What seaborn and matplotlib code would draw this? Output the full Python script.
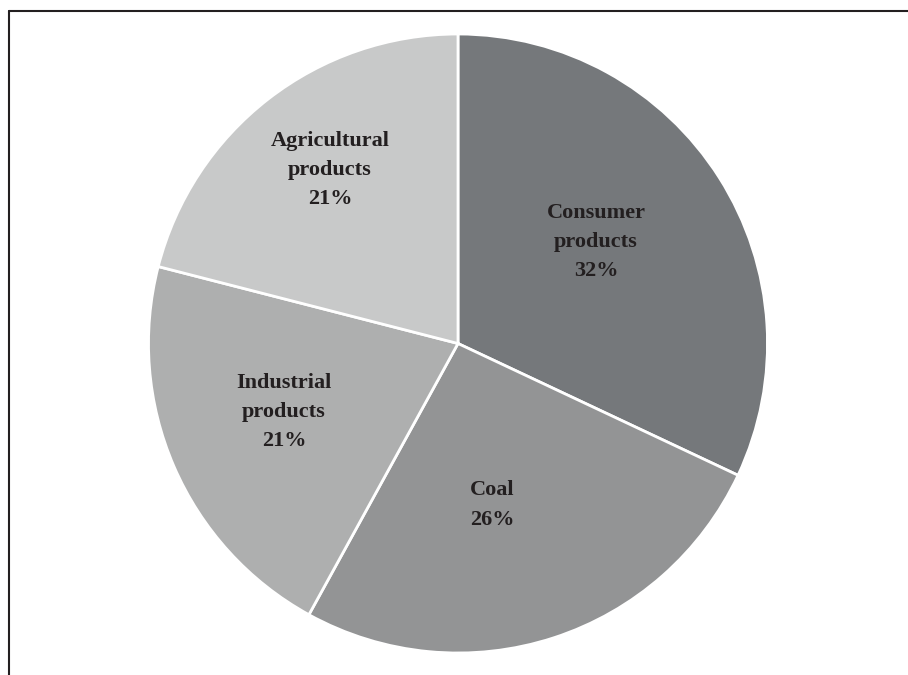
import matplotlib
matplotlib.use("Agg")
import matplotlib.pyplot as plt
from matplotlib.lines import Line2D
import seaborn as sns

# Freight mix by category (share of total, %)
categories = ["Consumer\nproducts", "Coal", "Industrial\nproducts", "Agricultural\nproducts"]
shares = [32, 26, 21, 21]
colors = ["#75787b", "#939495", "#aeafaf", "#c8c9c9"]

sns.set_theme(style="white")
plt.rcParams["font.family"] = ["Liberation Serif", "DejaVu Serif"]

W, H = 908, 675
fig = plt.figure(figsize=(W / 100, H / 100), dpi=100)
ax = fig.add_axes([0, 0, 1, 1])

cx, cy, r = 458, H - 343.5, 309.5
wedges, _ = ax.pie(
    shares, colors=colors, startangle=90, counterclock=False,
    center=(cx, cy), radius=r, frame=True,
    wedgeprops=dict(edgecolor="white", linewidth=2),
)
ax.set_xlim(0, W)
ax.set_ylim(0, H)
ax.set_aspect("equal")
ax.axis("off")

# label anchor points in pixel space (x, y from top)
label_pos = [(596, 242), (492, 505), (284, 412), (330, 170)]
for name, val, (lx, ly) in zip(categories, shares, label_pos):
    ax.text(lx, H - ly, f"{name}\n{val}%", ha="center", va="center",
            fontsize=16, fontweight="bold", color="#231f20", linespacing=1.62)

# open frame: top and left rules
fig.add_artist(Line2D([8.5 / W, 1], [1 - 10.5 / H, 1 - 10.5 / H],
                      transform=fig.transFigure, color="#231f20", linewidth=1.5))
fig.add_artist(Line2D([8.5 / W, 8.5 / W], [0, 1 - 10.5 / H],
                      transform=fig.transFigure, color="#231f20", linewidth=1.5))

fig.savefig("out.png", dpi=100)
